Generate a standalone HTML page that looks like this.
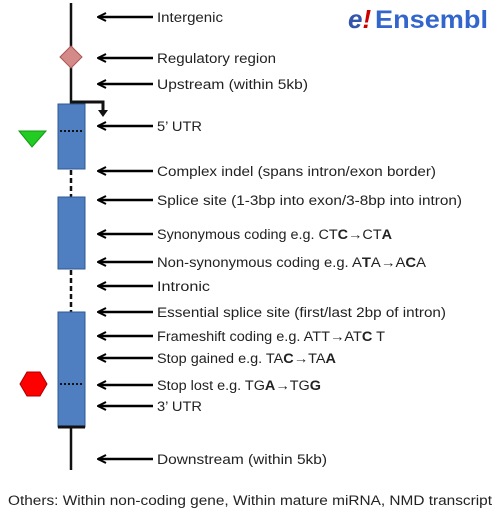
<!DOCTYPE html>
<html><head><style>
body{margin:0;background:#fff;width:500px;height:515px;overflow:hidden;font-family:"Liberation Sans",sans-serif}
svg text{font-family:"Liberation Sans",sans-serif;font-size:13.5px;fill:#222}
</style></head><body>
<svg width="500" height="515" viewBox="0 0 500 515">
<defs><marker id="a" markerWidth="10" markerHeight="10" refX="1" refY="5" orient="auto" markerUnits="userSpaceOnUse"><path d="M9,1 L1,5 L9,9" fill="none" stroke="#000" stroke-width="2"/></marker></defs>
<line x1="71" y1="3" x2="71" y2="104" stroke="#111" stroke-width="2.5"/>
<polyline points="71,102 103,102 103,113" fill="none" stroke="#111" stroke-width="3"/>
<path d="M98,110 L103,117 L108,110Z" fill="#111"/>
<polygon points="71,46 82,57 71,68 60,57" fill="#d48a88" stroke="#a55" stroke-width="1"/>
<rect x="58" y="104" width="27" height="65" fill="#4f7fc1" stroke="#2e5a94"/>
<line x1="60" y1="131" x2="84" y2="131" stroke="#111" stroke-width="2" stroke-dasharray="2,2"/>
<polygon points="19,131 46,131 32,147" fill="#2c2" stroke="#191"/>
<line x1="71" y1="170" x2="71" y2="197" stroke="#111" stroke-width="2.5" stroke-dasharray="5,3"/>
<rect x="58" y="197" width="27" height="72" fill="#4f7fc1" stroke="#2e5a94"/>
<line x1="71" y1="270" x2="71" y2="312" stroke="#111" stroke-width="2.5" stroke-dasharray="5,3"/>
<rect x="58" y="312" width="27" height="115" fill="#4f7fc1" stroke="#2e5a94"/>
<line x1="58" y1="427" x2="85" y2="427" stroke="#111" stroke-width="3"/>
<line x1="60" y1="384" x2="84" y2="384" stroke="#111" stroke-width="2" stroke-dasharray="2,2"/>
<line x1="71" y1="428" x2="71" y2="470" stroke="#111" stroke-width="2.5"/>
<polygon points="20,384 27,372 40,372 47,384 40,396 27,396" fill="#f00" stroke="#a00"/>
<g stroke="#000" stroke-width="2.5" marker-start="url(#a)">
<line x1="98" y1="17" x2="153" y2="17"/><line x1="98" y1="58" x2="153" y2="58"/>
<line x1="98" y1="84" x2="153" y2="84"/><line x1="98" y1="126" x2="153" y2="126"/>
<line x1="98" y1="171" x2="153" y2="171"/><line x1="98" y1="200" x2="153" y2="200"/>
<line x1="98" y1="234" x2="153" y2="234"/><line x1="98" y1="262" x2="153" y2="262"/>
<line x1="98" y1="286" x2="153" y2="286"/><line x1="98" y1="312" x2="153" y2="312"/>
<line x1="98" y1="336" x2="153" y2="336"/><line x1="98" y1="358" x2="153" y2="358"/>
<line x1="98" y1="385" x2="153" y2="385"/><line x1="98" y1="406" x2="153" y2="406"/>
<line x1="98" y1="459" x2="153" y2="459"/>
</g>
<g>
<text x="157" y="22" textLength="66" lengthAdjust="spacingAndGlyphs">Intergenic</text>
<text x="157" y="63" textLength="119" lengthAdjust="spacingAndGlyphs">Regulatory region</text>
<text x="157" y="89" textLength="151" lengthAdjust="spacingAndGlyphs">Upstream (within 5kb)</text>
<text x="157" y="131" textLength="45" lengthAdjust="spacingAndGlyphs">5’ UTR</text>
<text x="157" y="176" textLength="279" lengthAdjust="spacingAndGlyphs">Complex indel (spans intron/exon border)</text>
<text x="157" y="205" textLength="305" lengthAdjust="spacingAndGlyphs">Splice site (1-3bp into exon/3-8bp into intron)</text>
<text x="157" y="239" textLength="235" lengthAdjust="spacingAndGlyphs">Synonymous coding e.g. CT<tspan font-weight="bold">C</tspan>→CT<tspan font-weight="bold">A</tspan></text>
<text x="157" y="267" textLength="269" lengthAdjust="spacingAndGlyphs">Non-synonymous coding e.g. A<tspan font-weight="bold">T</tspan>A→A<tspan font-weight="bold">C</tspan>A</text>
<text x="157" y="291" textLength="53" lengthAdjust="spacingAndGlyphs">Intronic</text>
<text x="157" y="317" textLength="289" lengthAdjust="spacingAndGlyphs">Essential splice site (first/last 2bp of intron)</text>
<text x="157" y="341" textLength="228" lengthAdjust="spacingAndGlyphs">Frameshift coding e.g. ATT→AT<tspan font-weight="bold">C</tspan> T</text>
<text x="157" y="363" textLength="179" lengthAdjust="spacingAndGlyphs">Stop gained e.g. TA<tspan font-weight="bold">C</tspan>→TA<tspan font-weight="bold">A</tspan></text>
<text x="157" y="390" textLength="164" lengthAdjust="spacingAndGlyphs">Stop lost e.g. TG<tspan font-weight="bold">A</tspan>→TG<tspan font-weight="bold">G</tspan></text>
<text x="157" y="411" textLength="45" lengthAdjust="spacingAndGlyphs">3’ UTR</text>
<text x="157" y="464" textLength="170" lengthAdjust="spacingAndGlyphs">Downstream (within 5kb)</text>
<text x="8" y="505" textLength="484" lengthAdjust="spacingAndGlyphs">Others: Within non-coding gene, Within mature miRNA, NMD transcript</text>
</g>
<text x="348" y="28" style="font-size:26px;font-style:italic;font-weight:bold;fill:#3355aa">e<tspan fill="#c00">!</tspan></text>
<text x="375" y="28" style="font-size:25px;font-weight:bold;fill:#3366cc" textLength="113" lengthAdjust="spacingAndGlyphs">Ensembl</text>
</svg>
</body></html>
